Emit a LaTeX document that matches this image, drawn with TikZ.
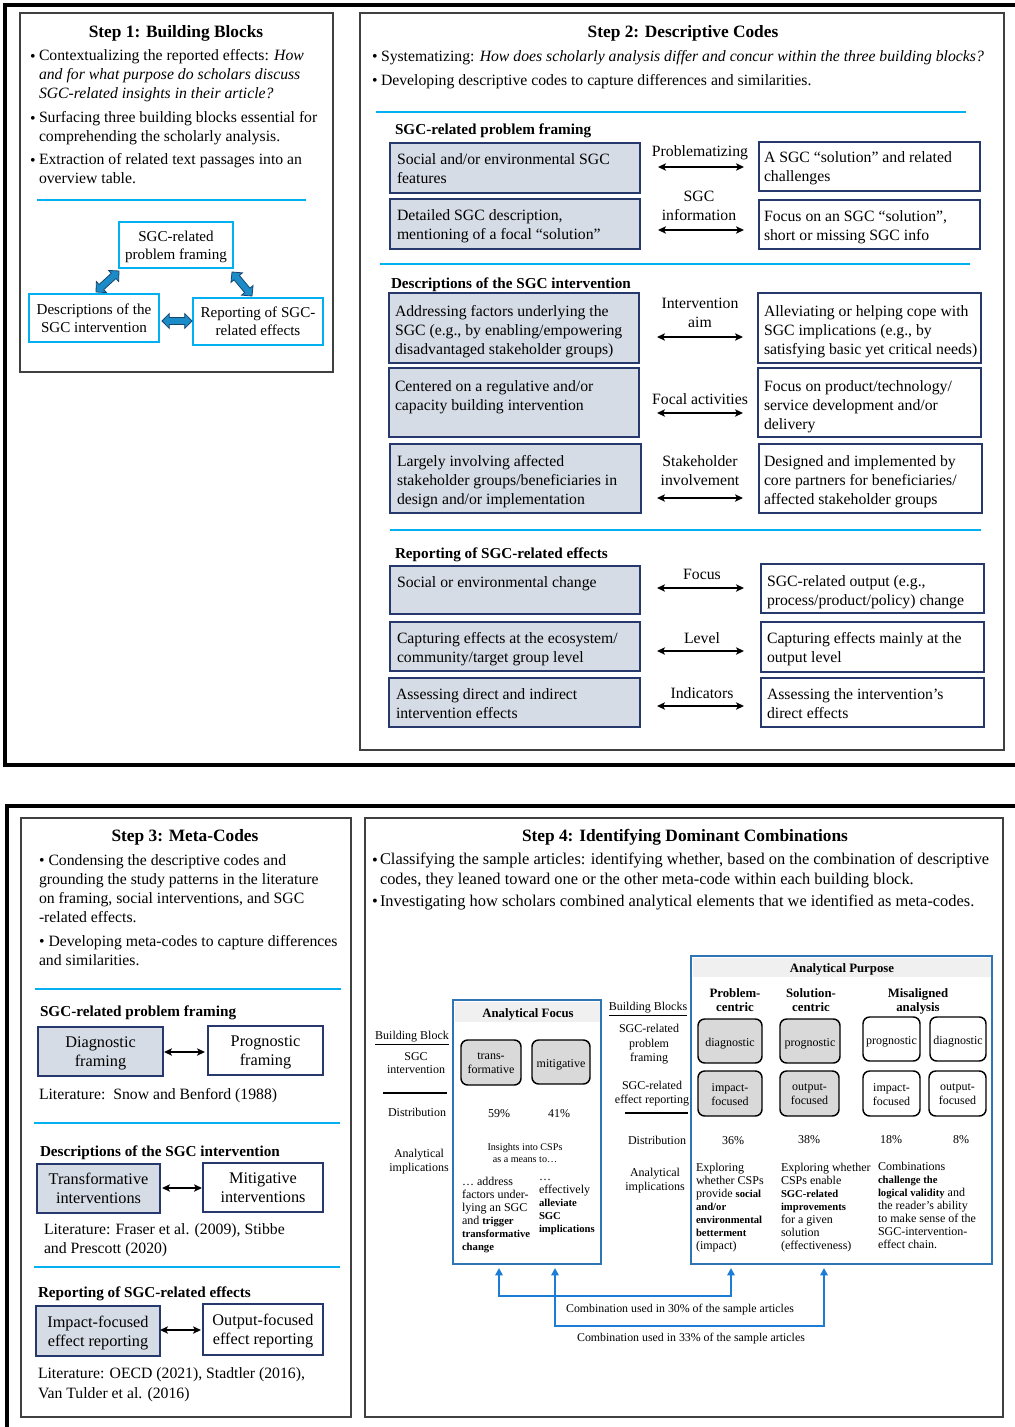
\documentclass[tikz,border=0pt]{standalone}
\usepackage{fontspec}
\setmainfont{Liberation Serif}
\usetikzlibrary{calc,fit,arrows.meta}
\definecolor{cyl}{RGB}{0,176,240}
\definecolor{navy}{RGB}{38,56,108}
\definecolor{bfill}{RGB}{214,220,229}
\definecolor{fgray}{RGB}{64,64,64}
\definecolor{afblue}{RGB}{46,117,182}
\definecolor{rfill}{RGB}{217,217,217}
\definecolor{hdr}{RGB}{240,240,240}
\definecolor{connc}{RGB}{28,124,214}
\definecolor{barf}{RGB}{28,140,200}
\definecolor{barl}{RGB}{22,70,112}
\newcommand\fs[2]{\fontsize{#1}{#2}\selectfont}
\newcommand\sbf[1]{{\fontsize{8}{9.75}\selectfont\bfseries #1}}
\newcommand\barrow[3]{%
\coordinate (#1q1) at ($(#2)!5.5pt!(#3)$);
\coordinate (#1q2) at ($(#3)!5.5pt!(#2)$);
\path[fill=barf, draw=barl, line width=0.6pt, line join=miter]
 (#2) -- ($(#1q1)!5.6pt!90:(#3)$) -- ($(#1q1)!2.6pt!90:(#3)$)
 -- ($(#1q2)!2.6pt!-90:(#2)$) -- ($(#1q2)!5.6pt!-90:(#2)$) -- (#3)
 -- ($(#1q2)!5.6pt!90:(#2)$) -- ($(#1q2)!2.6pt!90:(#2)$)
 -- ($(#1q1)!2.6pt!-90:(#3)$) -- ($(#1q1)!5.6pt!-90:(#3)$) -- cycle;}
\newcommand\darr[4]{%
\coordinate (#1a) at (#2,#4); \coordinate (#1b) at (#3,#4);
\draw[dar] (#1a) -- (#1b);}
% box with centred text: style, corners, name, text style, text
\newcommand\cbx[5]{%
\node[#1, fit={#2}] (#3) {};
\node[TC, #4] (#3t) at (#3.center) {#5};}
\begin{document}
\begin{tikzpicture}[x=0.75pt,y=-0.75pt,
 T/.style={inner sep=0pt, outer sep=0pt, yshift=-2pt, execute at begin node=\strut, execute at end node=\strut},
 TL/.style={T, anchor=west, align=left},
 TC/.style={T, anchor=center, align=center},
 body/.style={font=\fs{11.8}{14.25}},
 bodyb/.style={font=\fs{11.4}{14.25}\bfseries},
 title/.style={font=\fs{13}{15}\bfseries},
 sonebox/.style={font=\fs{11.3}{13.5}},
 sthreebox/.style={font=\fs{12.2}{14.25}},
 sfourbul/.style={font=\fs{12.3}{15}},
 sm/.style={font=\fs{9}{9.75}},
 smlab/.style={font=\fs{9}{10.5}},
 smh/.style={font=\fs{9.6}{10.5}\bfseries},
 foot/.style={font=\fs{8.9}{10}},
 outer/.style={draw=black, line width=2.3pt},
 frame/.style={draw=fgray, line width=1.1pt, inner sep=0pt},
 cbox/.style={draw=cyl, line width=1.1pt, inner sep=0pt},
 lbox/.style={draw=navy, fill=bfill, line width=1pt, inner sep=0pt},
 rbox/.style={draw=navy, fill=white, line width=1pt, inner sep=0pt},
 rrf/.style={draw=black, fill=rfill, line width=1.1pt, rounded corners=5pt, inner sep=0pt},
 rrw/.style={draw=black, fill=white, line width=1.1pt, rounded corners=5pt, inner sep=0pt},
 abox/.style={draw=afblue, line width=1.5pt, inner sep=0pt},
 cyline/.style={draw=cyl, line width=1.3pt},
 dar/.style={{Stealth[length=6pt,width=5.5pt,inset=1.5pt]}-{Stealth[length=6pt,width=5.5pt,inset=1.5pt]}, line width=1.1pt},
 conn/.style={{Triangle[length=5.5pt,width=5.5pt]}-{Triangle[length=5.5pt,width=5.5pt]}, draw=connc, line width=1.7pt, color=connc},
]
\useasboundingbox (0,0) rectangle (1014,1427);
\fill[white] (0,0) rectangle (1014,1427);
\draw[outer] (5,5) rectangle (1030,765);
\draw[outer] (7,806) rectangle (1030,1440);

% ---------------- Step 1
\node[frame, fit={(20,13) (333,372)}] (S1) {};
\node[TC, title] (s1t) at (176,31) {Step 1: Building Blocks};
\node[TL, body] (s1b1) at (30,55) {\textbullet};
\node[TL, body] (s1i1) at (39,74) {Contextualizing the reported effects: \textit{How}\\\textit{and for what purpose do scholars discuss}\\\textit{SGC-related insights in their article?}};
\node[TL, body] (s1b2) at (30,117) {\textbullet};
\node[TL, body] (s1i2) at (39,126.5) {Surfacing three building blocks essential for\\comprehending the scholarly analysis.};
\node[TL, body] (s1b3) at (30,159) {\textbullet};
\node[TL, body] (s1i3) at (39,169) {Extraction of related text passages into an\\overview table.};
\draw[cyline] (37,200) -- (306,200);
\cbx{cbox}{(119,222) (233,268)}{bbA}{sonebox}{SGC-related\\problem framing}
\cbx{cbox}{(29,294) (159,342)}{bbB}{sonebox}{Descriptions of the\\SGC intervention}
\cbx{cbox}{(193,298) (323,345)}{bbC}{sonebox}{Reporting of SGC-\\related effects}
\coordinate (ba1) at (96,292); \coordinate (ba2) at (119,271);
\barrow{A}{ba1}{ba2}
\coordinate (bb1) at (232,272); \coordinate (bb2) at (252,296);
\barrow{B}{bb1}{bb2}
\coordinate (bc1) at (162,321); \coordinate (bc2) at (192,321);
\barrow{C}{bc1}{bc2}

% ---------------- Step 2
\node[frame, fit={(360,13) (1004,750)}] (S2) {};
\node[TC, title] (s2t) at (683,31) {Step 2: Descriptive Codes};
\node[TL, body] (s2b1) at (372,55) {\textbullet};
\node[TL, body] (s2i1) at (381,55) {Systematizing: \textit{How does scholarly analysis differ and concur within the three building blocks?}};
\node[TL, body] (s2b2) at (372,79) {\textbullet};
\node[TL, body] (s2i2) at (381,79) {Developing descriptive codes to capture differences and similarities.};
\draw[cyline] (376,112) -- (966,112);
\node[TL, bodyb] (h21) at (395,128) {SGC-related problem framing};
\node[lbox, fit={(390,143) (640,193)}] (pl1) {};
\node[TL, body] (pl1t) at (397,168.5) {Social and/or environmental SGC\\features};
\node[lbox, fit={(390,199) (640,249)}] (pl2) {};
\node[TL, body] (pl2t) at (397,224.5) {Detailed SGC description,\\mentioning of a focal “solution”};
\node[rbox, fit={(759,142) (980,191)}] (pr1) {};
\node[TL, body] (pr1t) at (764,166.5) {A SGC “solution” and related\\challenges};
\node[rbox, fit={(759,200) (980,249)}] (pr2) {};
\node[TL, body] (pr2t) at (764,225.5) {Focus on an SGC “solution”,\\short or missing SGC info};
\node[TC, body] (pm1) at (700,150) {Problematizing};
\darr{pa}{658}{744}{167}
\node[TC, body] (pm2) at (699,206) {SGC\\information};
\darr{pb}{658}{744}{230}

\draw[cyline] (380,264) -- (970,264);
\node[TL, bodyb] (h22) at (391,282) {Descriptions of the SGC intervention};
\node[lbox, fit={(389,293) (639,363)}] (dl1) {};
\node[TL, body] (dl1t) at (395,330) {Addressing factors underlying the\\SGC (e.g., by enabling/empowering\\disadvantaged stakeholder groups)};
\node[lbox, fit={(389,368) (639,437)}] (dl2) {};
\node[TL, body] (dl2t) at (395,395.5) {Centered on a regulative and/or\\capacity building intervention};
\node[lbox, fit={(390,444) (641,513)}] (dl3) {};
\node[TL, body] (dl3t) at (397,480) {Largely involving affected\\stakeholder groups/beneficiaries in\\design and/or implementation};
\node[rbox, fit={(758,293) (981,363)}] (dr1) {};
\node[TL, body] (dr1t) at (764,330) {Alleviating or helping cope with\\SGC implications (e.g., by\\satisfying basic yet critical needs)};
\node[rbox, fit={(758,368) (981,437)}] (dr2) {};
\node[TL, body] (dr2t) at (764,405) {Focus on product/technology/\\service development and/or\\delivery};
\node[rbox, fit={(759,444) (982,513)}] (dr3) {};
\node[TL, body] (dr3t) at (764,480) {Designed and implemented by\\core partners for beneficiaries/\\affected stakeholder groups};
\node[TC, body] (dm1) at (700,312.5) {Intervention\\aim};
\darr{da}{657}{743}{337}
\node[TC, body] (dm2) at (700,398) {Focal activities};
\darr{db}{657}{743}{413}
\node[TC, body] (dm3) at (700,471) {Stakeholder\\involvement};
\darr{dc}{657}{743}{498}

\draw[cyline] (390,530) -- (981,530);
\node[TL, bodyb] (h23) at (395,552) {Reporting of SGC-related effects};
\node[lbox, fit={(390,566) (640,614)}] (rl1) {};
\node[TL, body] (rl1t) at (397,581) {Social or environmental change};
\node[lbox, fit={(390,622) (640,671)}] (rl2) {};
\node[TL, body] (rl2t) at (397,648) {Capturing effects at the ecosystem/\\community/target group level};
\node[lbox, fit={(389,678) (640,727)}] (rl3) {};
\node[TL, body] (rl3t) at (396,703.5) {Assessing direct and indirect\\intervention effects};
\node[rbox, fit={(761,564) (984,613)}] (rr1) {};
\node[TL, body] (rr1t) at (767,591) {SGC-related output (e.g.,\\process/product/policy) change};
\node[rbox, fit={(761,622) (984,672)}] (rr2) {};
\node[TL, body] (rr2t) at (767,648) {Capturing effects mainly at the\\output level};
\node[rbox, fit={(761,678) (984,727)}] (rr3) {};
\node[TL, body] (rr3t) at (767,703.5) {Assessing the intervention’s\\direct effects};
\node[TC, body] (rm1) at (702,573) {Focus};
\darr{ra}{657}{744}{588}
\node[TC, body] (rm2) at (702,637) {Level};
\darr{rb}{657}{744}{651}
\node[TC, body] (rm3) at (702,692) {Indicators};
\darr{rc}{657}{744}{706}

% ---------------- Step 3
\node[frame, fit={(21,818) (351,1417)}] (S3) {};
\node[TC, title] (s3t) at (185,835) {Step 3: Meta-Codes};
\node[TL, body] (s3i1) at (39,888.75) {\textbullet\hspace{3pt}Condensing the descriptive codes and\\grounding the study patterns in the literature\\on framing, social interventions, and SGC\\-related effects.};
\node[TL, body] (s3i2) at (39,951) {\textbullet\hspace{3pt}Developing meta-codes to capture differences\\and similarities.};
\draw[cyline] (35,989) -- (341,989);
\node[TL, bodyb] (h31) at (40,1010) {SGC-related problem framing};
\cbx{lbox}{(38,1027) (163,1076)}{m1l}{sthreebox}{Diagnostic\\framing}
\cbx{rbox}{(208,1026) (323,1075)}{m1r}{sthreebox}{Prognostic\\framing}
\darr{ma}{164}{205}{1052}
\node[TL, body] (lit1) at (39,1093) {Literature:\ \ Snow and Benford (1988)};
\draw[cyline] (34,1123) -- (340,1123);
\node[TL, bodyb] (h32) at (40,1150) {Descriptions of the SGC intervention};
\cbx{lbox}{(37,1164) (160,1213)}{m2l}{sthreebox}{Transformative\\interventions}
\cbx{rbox}{(203,1163) (323,1212)}{m2r}{sthreebox}{Mitigative\\interventions}
\darr{mb}{162}{202}{1188}
\node[TL, body] (lit2) at (44,1239) {Literature: Fraser et al. (2009), Stibbe\\and Prescott (2020)};
\draw[cyline] (34,1267) -- (340,1267);
\node[TL, bodyb] (h33) at (38,1291) {Reporting of SGC-related effects};
\cbx{lbox}{(36,1306) (160,1356)}{m3l}{sthreebox}{Impact-focused\\effect reporting}
\cbx{rbox}{(203,1304) (323,1355)}{m3r}{sthreebox}{Output-focused\\effect reporting}
\darr{mc}{160}{201}{1330}
\node[TL, font=\fs{11.8}{15}] (lit3) at (38,1383) {Literature: OECD (2021), Stadtler (2016),\\Van Tulder et al. (2016)};

% ---------------- Step 4
\node[frame, fit={(365,818) (1003,1417)}] (S4) {};
\node[TC, title] (s4t) at (685,835) {Step 4: Identifying Dominant Combinations};
\node[TL, sfourbul] (s4b1) at (372,859) {\textbullet};
\node[TL, sfourbul] (s4i1) at (380,869) {Classifying the sample articles: identifying whether, based on the combination of descriptive\\codes, they leaned toward one or the other meta-code within each building block.};
\node[TL, sfourbul] (s4b2) at (372,900) {\textbullet};
\node[TL, sfourbul] (s4i2) at (380,900) {Investigating how scholars combined analytical elements that we identified as meta-codes.};

% Analytical Focus
\node[abox, fit={(453,1000) (601,1264)}] (AF) {};
\fill[hdr] (454.5,1001.5) rectangle (599.5,1022);
\node[TC, smh] (AFh) at (528,1012) {Analytical Focus};
\node[TC, smlab] (lb1) at (412,1035) {\underline{Building Block}};
\node[TC, smlab, font=\fs{9}{9.75}] (lb2) at (416,1062.5) {SGC\\intervention};
\draw[line width=1pt] (383,1093) -- (447,1093);
\node[TC, smlab] (lb3) at (417,1111) {Distribution};
\node[TC, smlab] (lb4) at (419,1160) {Analytical\\implications};
\cbx{rrf}{(461,1040) (521,1085)}{fa1}{smlab}{trans-\\formative}
\cbx{rrf}{(532,1040) (590,1084)}{fa2}{smlab}{mitigative}
\node[TC, smlab] (fp1) at (499,1112) {59\%};
\node[TC, smlab] (fp2) at (559,1112) {41\%};
\node[TC, font=\fs{7.6}{8.6}] (fi0) at (525,1152) {Insights into CSPs\\as a means to…};
\node[TL, sm] (fi1) at (462,1213.5) {… address\\factors under-\\lying an SGC\\and \sbf{trigger}\\\sbf{transformative}\\\sbf{change}};
\node[TL, sm] (fi2) at (539,1205.5) {…\\effectively\\\sbf{alleviate}\\\sbf{SGC}\\\sbf{implications}};

% middle labels
\node[TC, smlab] (mb1) at (648,1006) {\underline{Building Blocks}};
\node[TC, font=\fs{9}{10.9}] (mb2) at (649,1042.5) {SGC-related\\problem\\framing};
\node[TC, smlab] (mb3) at (652,1092) {SGC-related\\effect reporting};
\draw[line width=1pt] (625,1113) -- (688,1113);
\node[TC, smlab] (mb4) at (657,1139) {Distribution};
\node[TC, smlab] (mb5) at (655,1178.5) {Analytical\\implications};

% Analytical Purpose
\node[abox, fit={(691,956) (992,1264)}] (AP) {};
\fill[hdr] (692.5,957.5) rectangle (990.5,977);
\node[TC, smh] (APh) at (842,967) {Analytical Purpose};
\node[TC, smh] (ph1) at (735,999) {Problem-\\centric};
\node[TC, smh] (ph2) at (811,999) {Solution-\\centric};
\node[TC, smh] (ph3) at (918,999) {Misaligned\\analysis};
\cbx{rrf}{(698,1019) (762,1063)}{pa1}{smlab}{diagnostic}
\cbx{rrf}{(780,1019) (840,1063)}{pa2}{smlab}{prognostic}
\cbx{rrw}{(863,1017) (920,1061)}{pa3}{smlab}{prognostic}
\cbx{rrw}{(930,1017) (986,1061)}{pa4}{smlab}{diagnostic}
\cbx{rrf}{(698,1071) (762,1116)}{pb1}{smlab}{impact-\\focused}
\cbx{rrf}{(780,1071) (839,1116)}{pb2}{smlab}{output-\\focused}
\cbx{rrw}{(863,1071) (920,1116)}{pb3}{smlab}{impact-\\focused}
\cbx{rrw}{(929,1071) (986,1116)}{pb4}{smlab}{output-\\focused}
\node[TC, smlab] (pp1) at (733,1139) {36\%};
\node[TC, smlab] (pp2) at (809,1138) {38\%};
\node[TC, smlab] (pp3) at (891,1138) {18\%};
\node[TC, smlab] (pp4) at (961,1138) {8\%};
\node[TL, sm] (pi1) at (696,1206) {Exploring\\whether CSPs\\provide \sbf{social}\\\sbf{and/or}\\\sbf{environmental}\\\sbf{betterment}\\(impact)};
\node[TL, sm] (pi2) at (781,1206) {Exploring whether\\CSPs enable\\\sbf{SGC-related}\\\sbf{improvements}\\for a given\\solution\\(effectiveness)};
\node[TL, sm] (pi3) at (878,1205) {Combinations\\\sbf{challenge the}\\\sbf{logical validity} and\\the reader’s ability\\to make sense of the\\SGC-intervention-\\effect chain.};

% connectors
\coordinate (k1a) at (499,1268); \coordinate (k1b) at (731,1268);
\draw[conn] (k1a) -- ++(0,28) -| (k1b);
\coordinate (k2a) at (555,1268); \coordinate (k2b) at (824,1268);
\draw[conn] (k2a) -- ++(0,58) -| (k2b);
\node[TC, foot] (kt1) at (680,1307) {Combination used in 30\% of the sample articles};
\node[TC, foot] (kt2) at (691,1336) {Combination used in 33\% of the sample articles};
\end{tikzpicture}
\end{document}
